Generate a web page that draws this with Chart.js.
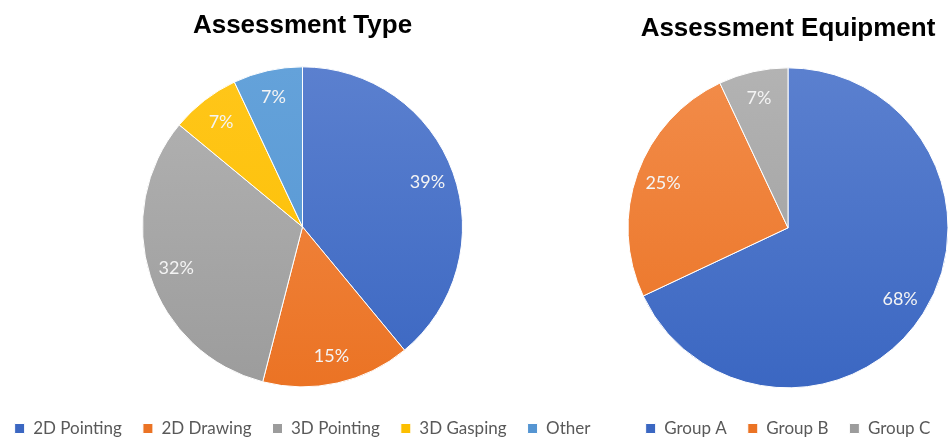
<!DOCTYPE html>
<html>
<head>
<meta charset="utf-8">
<title>Assessment Charts</title>
<script src="https://cdn.jsdelivr.net/npm/chart.js"></script>
<style>
  html, body { margin: 0; padding: 0; background: #fff; overflow: hidden; }
  body { width: 950px; height: 441px; position: relative; }
  .panel { position: absolute; top: 0; height: 447px; }
  /* both panels are wider than their half so the legends fit on one row;
     the canvases are transparent so the overlap is harmless */
  #left { left: -40px; width: 685px; }
  #right { left: 565px; width: 446px; }
</style>
</head>
<body>
<div class="panel" id="left"><canvas id="typeChart"></canvas></div>
<div class="panel" id="right"><canvas id="equipChart"></canvas></div>
<script>
const typeLabels = ['2D Pointing', '2D Drawing', '3D Pointing', '3D Gasping', 'Other'];
const typeValues = [39, 15, 32, 7, 7];
const equipLabels = ['Group A', 'Group B', 'Group C'];
const equipValues = [68, 25, 7];

// light (top) and dark (bottom) shade for each slice
const typeShades = [['#5b80cf', '#3b67c2'], ['#f28c4a', '#eb7324'], ['#b3b3b3', '#9c9c9c'], ['#ffc61a', '#fcbf00'], ['#64a2da', '#5595d2']];
const equipShades = [['#5b80cf', '#3b67c2'], ['#f28c4a', '#eb7324'], ['#b3b3b3', '#9c9c9c']];

function shade(pairs) {
  return (c) => {
    const pair = pairs[c.dataIndex % pairs.length];
    const area = c.chart.chartArea;
    if (!area) return pair[1];
    const cy = (area.top + area.bottom) / 2;
    const g = c.chart.ctx.createLinearGradient(0, cy - 160, 0, cy + 160);
    g.addColorStop(0, pair[0]);
    g.addColorStop(1, pair[1]);
    return g;
  };
}

// percentage text inside each slice
const sliceLabels = {
  id: 'sliceLabels',
  afterDatasetsDraw(chart) {
    const ctx = chart.ctx;
    const meta = chart.getDatasetMeta(0);
    const values = chart.data.datasets[0].data;
    ctx.save();
    ctx.font = '18px Lato';
    ctx.fillStyle = '#f4f4f4';
    ctx.textAlign = 'center';
    ctx.textBaseline = 'middle';
    meta.data.forEach((arc, i) => {
      const p = arc.getProps(['x', 'y', 'startAngle', 'endAngle', 'outerRadius'], true);
      const mid = (p.startAngle + p.endAngle) / 2;
      const r = p.outerRadius * 0.83;
      ctx.fillText(values[i] + '%', p.x + Math.cos(mid) * r, p.y + Math.sin(mid) * r);
    });
    ctx.restore();
  }
};

function makePie(id, title, labels, values, shades, titleTop, titleBottom, gap) {
  return new Chart(document.getElementById(id), {
    type: 'pie',
    data: {
      labels: labels,
      datasets: [{
        data: values,
        backgroundColor: shade(shades),
        borderColor: '#ffffff',
        borderWidth: 1,
        radius: 160
      }]
    },
    options: {
      responsive: true,
      maintainAspectRatio: false,
      animation: false,
      plugins: {
        title: {
          display: true,
          text: title,
          color: '#000000',
          font: { family: 'Liberation Sans', size: 26, weight: 'bold' },
          padding: { top: titleTop, bottom: titleBottom }
        },
        legend: {
          position: 'bottom',
          labels: {
            color: '#595959',
            font: { family: 'Lato', size: 17 },
            boxWidth: 10,
            boxHeight: 10,
            padding: gap
          }
        },
        tooltip: { enabled: false }
      }
    },
    plugins: [sliceLabels]
  });
}

makePie('typeChart', 'Assessment Type', typeLabels, typeValues, typeShades, 10, 13.5, 21);
makePie('equipChart', 'Assessment Equipment', equipLabels, equipValues, equipShades, 13, 12.5, 21);
</script>
</body>
</html>
